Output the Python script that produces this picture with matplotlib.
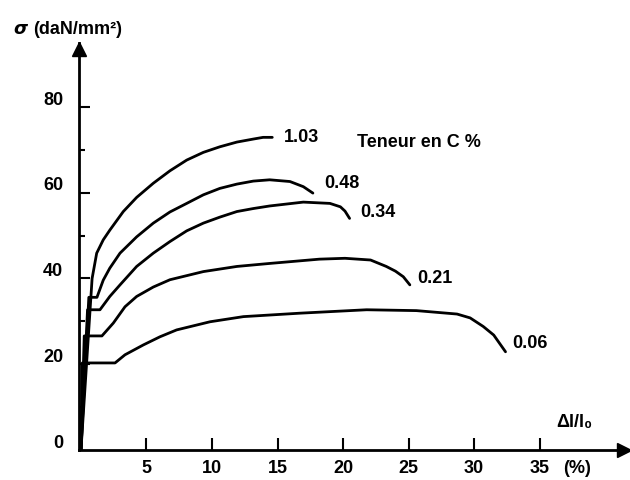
import matplotlib
matplotlib.use("Agg")
import matplotlib.pyplot as plt

plt.rcParams['font.family'] = ['Liberation Sans', 'DejaVu Sans']
plt.rcParams['font.weight'] = 'bold'

# ---- data (strain %, stress daN/mm2) ----
strain_103 = [0, 0.85, 1.2, 1.7, 2.21, 3.23, 4.25, 5.52, 6.79, 8.07, 9.34, 10.6, 11.9, 13.15, 13.9, 14.6]
stress_103 = [0, 40.0, 45.9, 49.0, 51.3, 55.6, 58.9, 62.2, 65.1, 67.6, 69.4, 70.7, 71.8, 72.5, 72.9, 72.9]

strain_048 = [0, 0.6, 1.22, 1.7, 2.2, 2.98, 4.25, 5.52, 6.79, 8.07, 9.34, 10.6, 11.9, 13.15, 14.4, 15.95, 16.97, 17.7]
stress_048 = [0, 35.6, 35.6, 39.6, 42.4, 45.9, 49.7, 52.9, 55.5, 57.5, 59.5, 61.0, 62.0, 62.7, 63.0, 62.6, 61.4, 59.9]

strain_034 = [0, 0.5, 1.45, 2.2, 2.98, 4.25, 5.52, 6.79, 8.07, 9.34, 10.6, 11.9, 13.15, 14.4, 16.97, 19.0, 19.8, 20.15, 20.5]
stress_034 = [0, 32.7, 32.7, 35.8, 38.5, 42.8, 45.9, 48.6, 51.1, 52.9, 54.3, 55.6, 56.3, 56.9, 57.8, 57.5, 56.7, 55.7, 54.0]

strain_021 = [0, 0.25, 1.6, 2.47, 3.36, 4.25, 5.52, 6.79, 9.34, 11.9, 14.4, 18.2, 20.15, 22.1, 23.3, 24.0, 24.6, 25.1]
stress_021 = [0, 26.6, 26.6, 29.6, 33.4, 35.8, 38.0, 39.7, 41.6, 42.8, 43.5, 44.5, 44.7, 44.3, 42.8, 41.7, 40.4, 38.5]

strain_006 = [0, 0.1, 2.6, 3.36, 4.76, 6.03, 7.3, 9.85, 12.4, 16.7, 21.8, 25.6, 28.7, 29.7, 30.7, 31.5, 32.4]
stress_006 = [0, 20.3, 20.3, 22.2, 24.5, 26.4, 28.0, 29.9, 31.1, 31.9, 32.7, 32.5, 31.7, 30.8, 28.8, 26.8, 22.9]

curve_labels = ["1.03", "0.48", "0.34", "0.21", "0.06"]
label_pos = [(15.5, 72.9), (18.55, 62.2), (21.3, 55.3), (25.7, 40.1), (32.9, 24.9)]

x_ticks = [5, 10, 15, 20, 25, 30, 35]
y_ticks = [20, 40, 60, 80]
y_minor = [10, 30, 50, 70]
y_labels = [0, 20, 40, 60, 80]

FS = 13

fig = plt.figure(figsize=(6.3, 4.8), dpi=100)
ax = fig.add_axes([79/630, 30/480, 551/630, 407/480])
ax.set_xlim(-0.15, 41.9)
ax.set_ylim(0, 94.9)

series = [(strain_103, stress_103), (strain_048, stress_048), (strain_034, stress_034),
          (strain_021, stress_021), (strain_006, stress_006)]
for (sx, sy), lab, (lx, ly) in zip(series, curve_labels, label_pos):
    ax.plot(sx, sy, color='black', lw=2, solid_joinstyle='round', solid_capstyle='round')
    ax.text(lx, ly, lab, ha='left', va='center', fontsize=FS, fontweight='bold')

ax.text(21.1, 71.6, "Teneur en C %", ha='left', va='center', fontsize=FS, fontweight='bold')

# axes with arrows
for s in ['top', 'right']:
    ax.spines[s].set_visible(False)
for s in ['left', 'bottom']:
    ax.spines[s].set_linewidth(2)
ax.plot(1 - 6/551, 0, '>', color='black', ms=10, transform=ax.transAxes, clip_on=False)
ax.plot(0, 1 - 6/407, '^', color='black', ms=10, transform=ax.transAxes, clip_on=False)

ax.set_xticks(x_ticks)
ax.set_xticklabels([str(v) for v in x_ticks])
ax.tick_params(axis='x', direction='in', length=8.5, width=1.5, pad=7, labelsize=FS)
ax.set_yticks(y_ticks)
ax.set_yticks(y_minor, minor=True)
ax.set_yticklabels([])
ax.tick_params(axis='y', which='major', direction='in', length=8, width=1.5)
ax.tick_params(axis='y', which='minor', direction='in', length=4.3, width=1.5)
for lab in ax.get_xticklabels():
    lab.set_fontweight('bold')

ytrans = ax.get_yaxis_transform()
for v in y_labels:
    ax.text(-0.029, v + 1.6, str(v), transform=ytrans, ha='right', va='center',
            fontsize=FS, fontweight='bold', clip_on=False)

ax.text(36.3, 6.3, "Δl/l₀", ha='left', va='center', fontsize=FS, fontweight='bold', clip_on=False)
ax.text(36.8, -4.2, "(%)", ha='left', va='center', fontsize=FS, fontweight='bold', clip_on=False)

fig.text(13/630, 1 - 29/480, r"$\sigma$", ha='left', va='center', fontsize=FS)
fig.text(33/630, 1 - 29/480, "(daN/mm²)", ha='left', va='center', fontsize=FS, fontweight='bold')

fig.savefig("out.png", dpi=100)
